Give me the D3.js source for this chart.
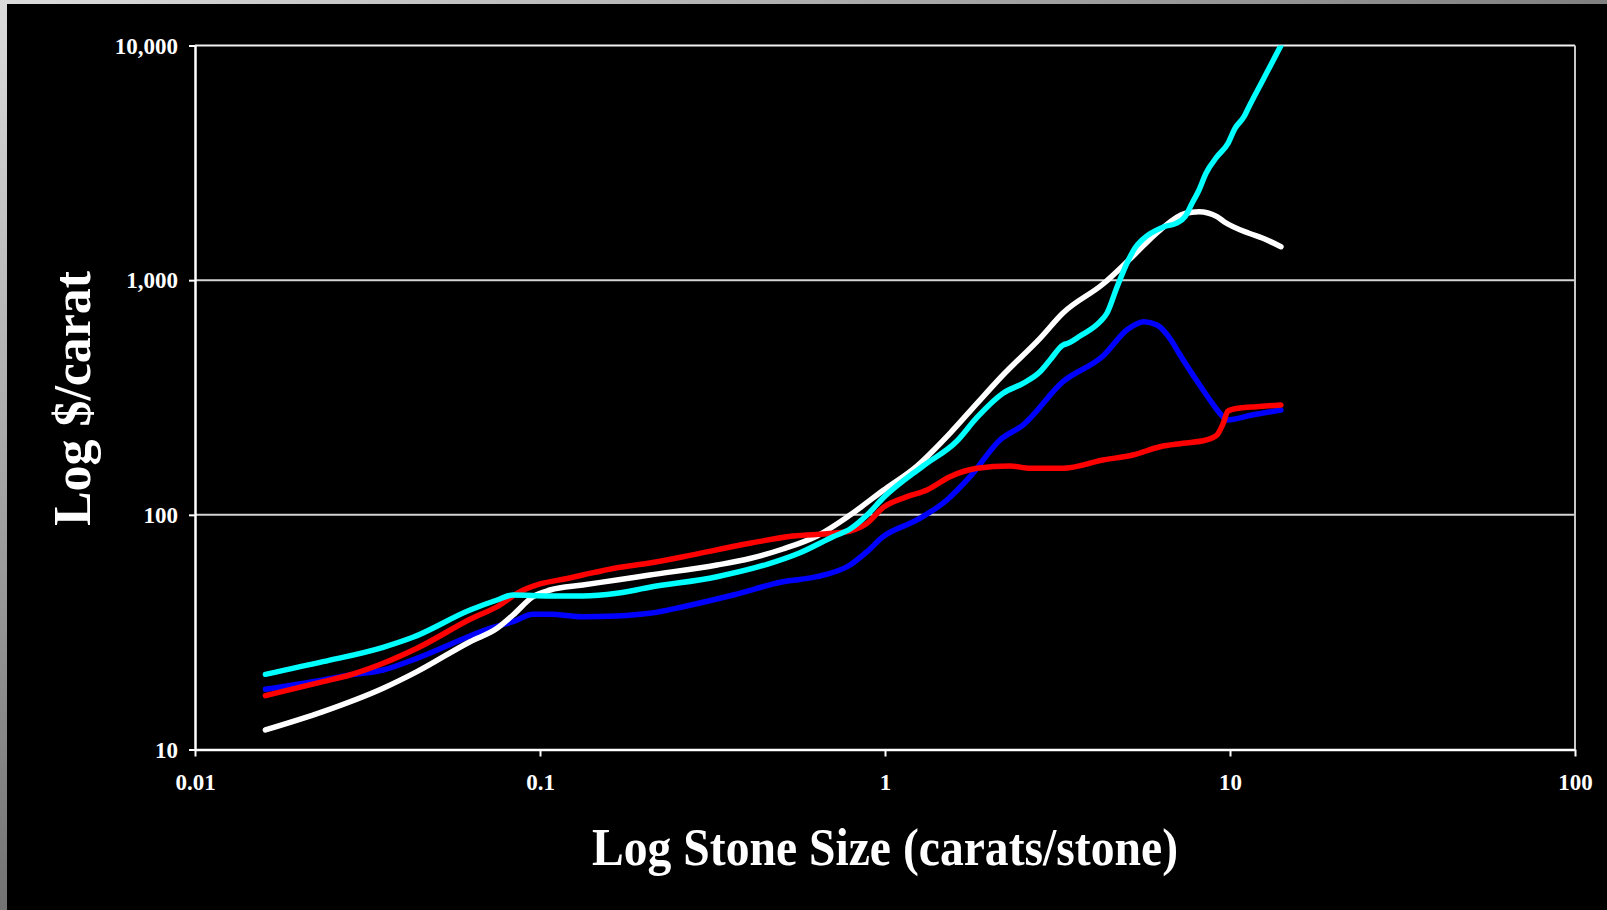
<!DOCTYPE html>
<html>
<head>
<meta charset="utf-8">
<script src="https://cdn.jsdelivr.net/npm/d3@7"></script>
<style>
  html, body { margin: 0; padding: 0; background: #000; overflow: hidden; }
  svg { display: block; }
</style>
</head>
<body>
<svg id="chart" width="1607" height="910"></svg>
<script>
// ---- data ----
const xTicks = [0.01, 0.1, 1, 10, 100];
const xTickLabels = ["0.01", "0.1", "1", "10", "100"];
const yTicks = [10, 100, 1000, 10000];
const yTickLabels = ["10", "100", "1,000", "10,000"];
const xTitle = "Log Stone Size (carats/stone)";
const yTitle = "Log $/carat";

const whiteCarats = [0.0160, 0.0235, 0.0351, 0.0440, 0.0627, 0.0751, 0.0835, 0.0954, 0.107, 0.133, 0.167, 0.208, 0.326, 0.406, 0.506, 0.635, 0.792, 0.987, 1.238, 1.543, 1.848, 2.198, 2.814, 3.280, 4.285, 5.165, 6.27, 7.41, 8.13, 9.17, 9.61, 11.35, 12.46, 14.05];
const whitePrice  = [12.11, 14.49, 18.23, 21.46, 28.80, 32.85, 37.42, 44.78, 47.83, 50.23, 52.76, 55.41, 61.13, 65.15, 71.52, 81.24, 99.8, 127.0, 161.5, 222.6, 298.7, 394.4, 565.1, 724.4, 963.0, 1243, 1636, 1927, 1957, 1864, 1775, 1584, 1508, 1389];

const cyanCarats = [0.0160, 0.0235, 0.0351, 0.0428, 0.0627, 0.0751, 0.0835, 0.107, 0.133, 0.167, 0.208, 0.326, 0.455, 0.567, 0.707, 0.792, 0.887, 0.987, 1.289, 1.617, 1.848, 2.198, 2.512, 2.814, 3.008, 3.280, 3.392, 3.675, 4.201, 4.402, 4.705, 5.029, 5.304, 5.559, 6.438, 6.975, 7.407, 7.762, 8.133, 8.52, 9.171, 9.867, 10.34, 10.98, 11.35, 12.46, 14.05];
const cyanPrice  = [20.91, 23.67, 27.26, 30.07, 39.30, 43.36, 45.54, 45.10, 45.10, 46.29, 49.11, 54.50, 61.55, 68.97, 80.69, 87.0, 99.8, 117.9, 161.5, 206.4, 259.9, 329.6, 363.5, 407.4, 456.9, 529.2, 538.1, 578.1, 665.3, 724.4, 934.9, 1183, 1371, 1483, 1690, 1747, 1864, 2126, 2422, 2854, 3358, 3830, 4437, 4972, 5485, 7127, 10000];

const blueCarats = [0.0160, 0.0235, 0.0281, 0.0351, 0.0440, 0.0627, 0.0716, 0.0835, 0.0954, 0.107, 0.133, 0.167, 0.208, 0.260, 0.363, 0.506, 0.635, 0.792, 0.887, 0.987, 1.238, 1.512, 1.764, 2.154, 2.512, 3.280, 4.285, 5.063, 5.632, 6.143, 6.745, 7.116, 8.353, 8.749, 9.417, 9.802, 11.58, 14.05];
const bluePrice  = [18.05, 19.78, 20.77, 21.82, 24.47, 30.45, 32.85, 35.04, 37.68, 37.68, 36.81, 37.07, 38.05, 40.60, 45.54, 51.88, 54.50, 61.13, 69.65, 80.69, 95.06, 115.7, 145.4, 208.4, 241.4, 369.3, 475.1, 619.4, 665.3, 644.1, 555.9, 487.9, 340.4, 308.6, 267.6, 253.6, 266.3, 279.7];

const redCarats = [0.0160, 0.0235, 0.0281, 0.0351, 0.0440, 0.0627, 0.0766, 0.0858, 0.100, 0.120, 0.133, 0.167, 0.208, 0.260, 0.406, 0.541, 0.707, 0.792, 0.887, 0.987, 1.158, 1.324, 1.543, 1.848, 2.303, 2.632, 3.280, 4.285, 5.234, 6.27, 7.309, 8.52, 9.17, 9.54, 9.87, 10.69, 11.90, 14.05];
const redPrice  = [16.96, 19.45, 20.77, 23.30, 27.00, 35.87, 41.29, 46.29, 50.73, 53.55, 55.41, 59.53, 62.33, 66.31, 75.62, 81.24, 83.42, 85.33, 92.03, 107.4, 119.5, 127.6, 145.4, 157.9, 161.5, 157.9, 157.9, 171.3, 179.9, 195.1, 201.7, 208.4, 218.9, 243.8, 277.0, 285.2, 288.9, 293.8];

const seriesColors = ["#0000ff", "#ffffff", "#ff0000", "#00ffff"];

// ---- layout ----
const W = 1607, H = 910;
const plot = { left: 195, right: 1575, top: 45.5, bottom: 749.5 };

const svg = d3.select("#chart");
const defs = svg.append("defs");

svg.append("rect").attr("x", 0).attr("y", 0).attr("width", W).attr("height", H).attr("fill", "#000");

// frame stripes
const gTop = defs.append("linearGradient").attr("id", "gTop").attr("x1", "0").attr("x2", "1").attr("y1", "0").attr("y2", "0");
gTop.append("stop").attr("offset", "0").attr("stop-color", "#dcdcdc");
gTop.append("stop").attr("offset", "1").attr("stop-color", "#808080");
const gLeft = defs.append("linearGradient").attr("id", "gLeft").attr("x1", "0").attr("x2", "0").attr("y1", "0").attr("y2", "1");
gLeft.append("stop").attr("offset", "0").attr("stop-color", "#dcdcdc");
gLeft.append("stop").attr("offset", "1").attr("stop-color", "#737373");
svg.append("rect").attr("x", 0).attr("y", 0).attr("width", W).attr("height", 4).attr("fill", "url(#gTop)");
svg.append("rect").attr("x", 0).attr("y", 0).attr("width", 7).attr("height", H).attr("fill", "url(#gLeft)");

const x = d3.scaleLog().domain([0.01, 100]).range([plot.left, plot.right]);
const y = d3.scaleLog().domain([10, 10000]).range([plot.bottom, plot.top]);

defs.append("clipPath").attr("id", "plotClip")
  .append("rect").attr("x", 0).attr("y", plot.top).attr("width", W).attr("height", H - plot.top);

// gridlines
svg.append("g").selectAll("line").data(yTicks.slice(1)).join("line")
  .attr("x1", plot.left).attr("x2", plot.right)
  .attr("y1", d => y(d)).attr("y2", d => y(d))
  .attr("stroke", d => d === 10000 ? "#f2f2f2" : "#d4d4d4").attr("stroke-width", 2);
// right border
svg.append("line").attr("x1", plot.right).attr("x2", plot.right)
  .attr("y1", plot.top).attr("y2", plot.bottom)
  .attr("stroke", "#c8c8c8").attr("stroke-width", 2);

const fontFam = "'Liberation Serif', 'Times New Roman', serif";

// axes
const xAxis = d3.axisBottom(x).tickValues(xTicks).tickSizeInner(7).tickSizeOuter(0)
  .tickFormat((d, i) => xTickLabels[i]);
const yAxis = d3.axisLeft(y).tickValues(yTicks).tickSizeInner(6).tickSizeOuter(0)
  .tickFormat((d, i) => yTickLabels[i]);

const gx = svg.append("g").attr("transform", `translate(0,${plot.bottom})`).call(xAxis);
const gy = svg.append("g").attr("transform", `translate(${plot.left},0)`).call(yAxis);

[gx, gy].forEach(g => {
  g.select(".domain").attr("stroke", "#ffffff").attr("stroke-width", 2.5);
  g.selectAll(".tick line").attr("stroke", "#ffffff").attr("stroke-width", 2);
  g.selectAll(".tick text").attr("fill", "#ffffff")
    .style("font-family", fontFam).style("font-weight", "bold").style("font-size", "23px");
});
gx.selectAll(".tick text").attr("y", 24).attr("dy", "0.71em");
gy.selectAll(".tick text").attr("x", -17).attr("dy", "0.33em");

// lines
const line = d3.line().x(d => x(d[0])).y(d => y(d[1])).curve(d3.curveMonotoneX);
const series = [
  blueCarats.map((c, i) => [c, bluePrice[i]]),
  whiteCarats.map((c, i) => [c, whitePrice[i]]),
  redCarats.map((c, i) => [c, redPrice[i]]),
  cyanCarats.map((c, i) => [c, cyanPrice[i]])
];
svg.append("g").attr("clip-path", "url(#plotClip)")
  .selectAll("path").data(series).join("path")
  .attr("d", line)
  .attr("fill", "none")
  .attr("stroke", (d, i) => seriesColors[i])
  .attr("stroke-width", 5.5)
  .attr("stroke-linecap", "round")
  .attr("stroke-linejoin", "round");

// titles
svg.append("text")
  .attr("x", (plot.left + plot.right) / 2).attr("y", 865)
  .attr("text-anchor", "middle")
  .attr("fill", "#ffffff")
  .attr("textLength", 586).attr("lengthAdjust", "spacingAndGlyphs")
  .style("font-family", fontFam).style("font-weight", "bold").style("font-size", "53px")
  .text(xTitle);

svg.append("text")
  .attr("transform", `translate(90,${(plot.top + plot.bottom) / 2 + 1}) rotate(-90)`)
  .attr("text-anchor", "middle")
  .attr("fill", "#ffffff")
  .attr("textLength", 255).attr("lengthAdjust", "spacingAndGlyphs")
  .style("font-family", fontFam).style("font-weight", "bold").style("font-size", "53px")
  .text(yTitle);
</script>
</body>
</html>
